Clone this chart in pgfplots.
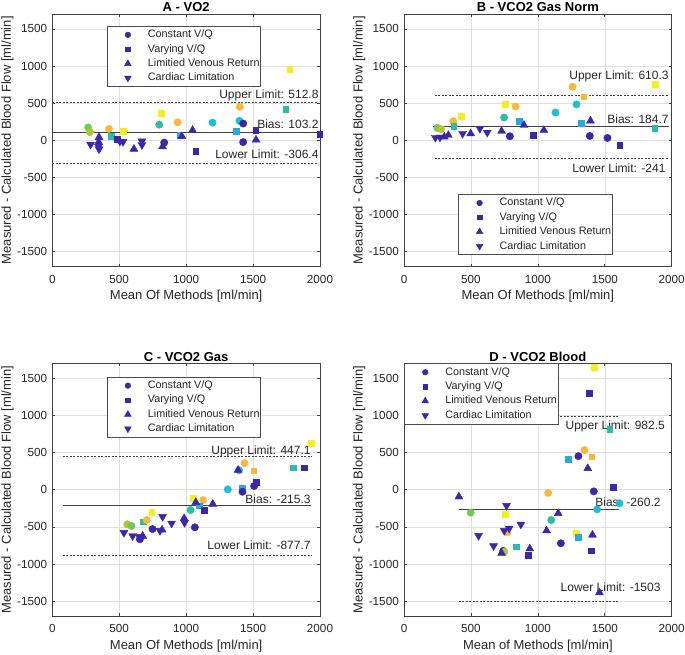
\documentclass[border=0pt]{standalone}
\usepackage{fontspec}
\setmainfont{Liberation Sans}
\usepackage{pgfplots}
\pgfplotsset{compat=1.18}

\definecolor{pDark}{RGB}{62,38,168}
\definecolor{pBlue}{RGB}{40,170,225}
\definecolor{pCyan}{RGB}{28,192,210}
\definecolor{pTeal}{RGB}{42,190,165}
\definecolor{pGreen}{RGB}{112,202,90}
\definecolor{pLime}{RGB}{178,198,45}
\definecolor{pOrange}{RGB}{249,184,58}
\definecolor{pYellow}{RGB}{246,240,25}
\definecolor{axcol}{RGB}{38,38,38}

\tikzset{annot/.style={font=\fontsize{12}{14}\selectfont, text=axcol, inner sep=0pt, anchor=base east}}

\pgfplotsset{
  cD/.style={only marks, mark=*, mark size=3.7pt, color=pDark, forget plot},
  cC/.style={only marks, mark=*, mark size=3.7pt, color=pCyan, forget plot},
  cT/.style={only marks, mark=*, mark size=3.7pt, color=pTeal, forget plot},
  cG/.style={only marks, mark=*, mark size=3.7pt, color=pGreen, forget plot},
  cL/.style={only marks, mark=*, mark size=3.7pt, color=pLime, forget plot},
  cO/.style={only marks, mark=*, mark size=3.7pt, color=pOrange, forget plot},
  sD/.style={only marks, mark=square*, mark size=2.9pt, color=pDark, forget plot},
  sB/.style={only marks, mark=square*, mark size=2.9pt, color=pBlue, forget plot},
  sT/.style={only marks, mark=square*, mark size=2.9pt, color=pTeal, forget plot},
  sO/.style={only marks, mark=square*, mark size=2.9pt, color=pOrange, forget plot},
  sY/.style={only marks, mark=square*, mark size=2.9pt, color=pYellow, forget plot},
  tD/.style={only marks, mark=triangle*, mark size=4.6pt, color=pDark, forget plot},
  vD/.style={only marks, mark=triangle*, mark size=4.6pt, mark options={rotate=180}, color=pDark, forget plot},
  biasline/.style={black!75, line width=0.8pt, forget plot},
  limline/.style={black!75, line width=0.6pt, dash pattern=on 2pt off 1.5pt, forget plot},
  baseaxis/.style={
    scale only axis, width=267.7pt, height=252.5pt,
    xmin=0, xmax=2000, ymin=-1700, ymax=1700,
    xtick={0,500,1000,1500,2000}, ytick={-1500,-1000,-500,0,500,1000,1500},
    grid=major, major grid style={black!12, line width=0.5pt},
    tick align=inside, major tick length=2.7pt,
    axis line style={black!75, line width=0.6pt},
    every tick/.append style={black!75, line width=0.6pt},
    tick label style={font=\fontsize{11.7}{13}\selectfont, text=axcol},
    /pgf/number format/assume math mode=true,
    /pgf/number format/1000 sep={},
    scaled ticks=false,
    xticklabel style={yshift=-5pt},
    yticklabel style={xshift=-1.7pt},
    label style={font=\fontsize{13}{15}\selectfont, text=axcol},
    xlabel style={at={(axis description cs:0.5,-0.119)}, anchor=center},
    ylabel style={at={(axis description cs:-0.1674,0.5)}, anchor=center},
    title style={font=\fontsize{13}{15}\selectfont\bfseries, text=black, at={(axis description cs:0.5,1)}, anchor=base, yshift=-4pt},
    ylabel={Measured - Calculated Blood Flow [ml/min]},
    legend style={draw=black!70, line width=0.5pt, fill=white, font=\fontsize{10.8}{12}\selectfont, text=axcol,
      inner xsep=0pt, inner ysep=2.5pt, row sep=2.4pt, nodes={inner sep=1pt, text height=7.8pt, text depth=2.2pt}},
    legend cell align=left,
    legend image code/.code={\path[draw=none,fill=none] (0pt,-4pt) (40pt,4pt); \draw[##1] plot coordinates {(21pt,0pt)};},
  },
}

\newcommand{\mylegend}{%
  \addlegendimage{only marks, mark=*, mark size=2.8pt, pDark}
  \addlegendentry{Constant V/Q}
  \addlegendimage{only marks, mark=square*, mark size=2.2pt, pDark}
  \addlegendentry{Varying V/Q}
  \addlegendimage{only marks, mark=triangle*, mark size=3.8pt, pDark}
  \addlegendentry{Limitied Venous Return}
  \addlegendimage{only marks, mark=triangle*, mark size=3.8pt, mark options={rotate=180}, pDark}
  \addlegendentry{Cardiac Limitation}
}

\begin{document}
\begin{tikzpicture}
\useasboundingbox (0,0) rectangle (685pt,655pt);

% ---------------- A ----------------
\begin{axis}[baseaxis, at={(52.3pt,388.5pt)}, anchor=south west,
  title={A - VO2}, xlabel={Mean Of Methods [ml/min]},
  legend style={at={(0.203,0.952)}, anchor=north west}]
\mylegend
\addplot[biasline] coordinates {(0,103.2) (1985,103.2)};
\addplot[limline] coordinates {(0,512.8) (1985,512.8)};
\addplot[limline] coordinates {(0,-306.4) (1985,-306.4)};
\node[annot, yshift=3.4pt] at (axis cs:1990,512.8) {Upper Limit: 512.8};
\node[annot, yshift=3.7pt] at (axis cs:1990,103.2) {Bias: 103.2};
\node[annot, yshift=4pt] at (axis cs:1990,-306.4) {Lower Limit: -306.4};
\addplot[sY] coordinates {(1774,955) (813,369) (530,126)};
\addplot[sT] coordinates {(1744,415) (438,54)};
\addplot[cO] coordinates {(1401,450) (937,241) (423,153)};
\addplot[cT] coordinates {(799,210)};
\addplot[cC] coordinates {(1197,237) (1398,261)};
\addplot[cG] coordinates {(268,173)};
\addplot[cL] coordinates {(281,108)};
\addplot[sB] coordinates {(1376,122) (952,72)};
\addplot[cD] coordinates {(1426,225) (836,-31) (1426,-25)};
\addplot[sD] coordinates {(1520,130) (1998,79) (1072,-150) (483,9)};
\addplot[tD] coordinates {(349,40) (346,-25) (610,-118) (824,-85) (968,52) (1048,135) (1522,5)};
\addplot[vD] coordinates {(286,-58) (346,-85) (349,-120) (505,-15) (528,-20) (670,-12) (670,-62)};
\end{axis}

% ---------------- B ----------------
\begin{axis}[baseaxis, at={(404pt,388.5pt)}, anchor=south west,
  title={B - VCO2 Gas Norm}, xlabel={Mean Of Methods [ml/min]},
  legend style={at={(0.203,0.286)}, anchor=north west}]
\mylegend
\addplot[biasline] coordinates {(216,184.7) (1978,184.7)};
\addplot[limline] coordinates {(231,610.3) (1978,610.3)};
\addplot[limline] coordinates {(231,-241) (1978,-241)};
\node[annot, yshift=15pt] at (axis cs:1978,610.3) {Upper Limit: 610.3};
\node[annot, yshift=2.7pt] at (axis cs:1978,184.7) {Bias: 184.7};
\node[annot, yshift=-14pt] at (axis cs:1955,-241) {Lower Limit: -241};
\addplot[sY] coordinates {(1878,752) (756,486) (428,329)};
\addplot[cO] coordinates {(1259,720) (834,455) (368,256)};
\addplot[sO] coordinates {(1343,585)};
\addplot[cC] coordinates {(1289,482) (1132,374)};
\addplot[cT] coordinates {(748,306)};
\addplot[sB] coordinates {(861,261) (1321,225)};
\addplot[sT] coordinates {(1873,158) (371,189)};
\addplot[cG] coordinates {(249,166)};
\addplot[cL] coordinates {(276,149)};
\addplot[vD] coordinates {(234,36) (269,40) (438,90) (567,158) (622,104)};
\addplot[tD] coordinates {(301,45) (331,68) (498,90) (729,122) (896,203) (1045,135) (1393,261)};
\addplot[cD] coordinates {(791,54) (1388,58) (1520,31)};
\addplot[sD] coordinates {(965,68) (1612,-68)};
\end{axis}

% ---------------- C ----------------
\begin{axis}[baseaxis, at={(52.3pt,39pt)}, anchor=south west,
  title={C - VCO2 Gas}, xlabel={Mean Of Methods [ml/min]},
  legend style={at={(0.203,0.947)}, anchor=north west}]
\mylegend
\addplot[biasline] coordinates {(78,-215.3) (1936,-215.3)};
\addplot[limline] coordinates {(78,447.1) (1936,447.1)};
\addplot[limline] coordinates {(78,-877.7) (1936,-877.7)};
\node[annot, yshift=2.3pt] at (axis cs:1931,447.1) {Upper Limit: 447.1};
\node[annot, yshift=2.7pt] at (axis cs:1931,-215.3) {Bias: -215.3};
\node[annot, yshift=5pt] at (axis cs:1931,-877.7) {Lower Limit: -877.7};
\addplot[sY] coordinates {(1936,624) (1050,-116) (742,-304)};
\addplot[sT] coordinates {(1799,296) (679,-430)};
\addplot[cO] coordinates {(1436,359) (1127,-139) (705,-408)};
\addplot[sO] coordinates {(1505,256)};
\addplot[cC] coordinates {(1395,262) (1311,5)};
\addplot[sB] coordinates {(1418,27) (1095,-215)};
\addplot[cT] coordinates {(1033,-273)};
\addplot[cL] coordinates {(560,-465)};
\addplot[cG] coordinates {(592,-488)};
\addplot[sD] coordinates {(1881,296) (1525,104) (1135,-273)};
\addplot[cD] coordinates {(1508,50) (1421,-27) (1065,-506) (749,-529) (654,-667)};
\addplot[tD] coordinates {(1388,265) (1072,-170) (1199,-192) (985,-385) (675,-623) (820,-540)};
\addplot[vD] coordinates {(988,-444) (824,-363) (891,-452) (804,-551) (535,-578) (600,-623) (650,-632)};
\end{axis}

% ---------------- D ----------------
\begin{axis}[baseaxis, at={(404pt,39pt)}, anchor=south west,
  title={D - VCO2 Blood}, xlabel={Mean of Methods [ml/min]},
  legend style={at={(0,1)}, anchor=north west}]
\mylegend
\addplot[biasline] coordinates {(410,-260.2) (1607,-260.2)};
\addplot[limline] coordinates {(410,982.5) (1607,982.5)};
\addplot[limline] coordinates {(410,-1503) (1607,-1503)};
\node[annot, yshift=-12.3pt] at (axis cs:1950,982.5) {Upper Limit: 982.5};
\node[annot, yshift=3pt] at (axis cs:1918,-260.2) {Bias: -260.2};
\node[annot, yshift=10pt] at (axis cs:1918,-1503) {Lower Limit: -1503};
\addplot[sY] coordinates {(1420,1654) (754,-331) (1284,-587)};
\addplot[sT] coordinates {(1537,816) (841,-766)};
\addplot[cO] coordinates {(1348,534) (1077,-44) (771,-573)};
\addplot[sO] coordinates {(1403,444)};
\addplot[sB] coordinates {(1226,409) (1301,-636)};
\addplot[cC] coordinates {(1610,-183) (1443,-264)};
\addplot[cG] coordinates {(498,-309)};
\addplot[cT] coordinates {(1100,-408)};
\addplot[sD] coordinates {(1381,1301) (1560,32) (1401,-820) (925,-878)};
\addplot[cD] coordinates {(1303,453) (1418,-22) (1172,-721) (741,-824)};
\addplot[cL] coordinates {(749,-838)};
\addplot[tD] coordinates {(1373,288) (410,-94) (1152,-318) (1065,-551) (1408,-609) (940,-793) (729,-855) (1460,-1385)};
\addplot[vD] coordinates {(766,-215) (873,-466) (786,-520) (749,-551) (557,-619) (669,-757)};
\end{axis}
\end{tikzpicture}
\end{document}
